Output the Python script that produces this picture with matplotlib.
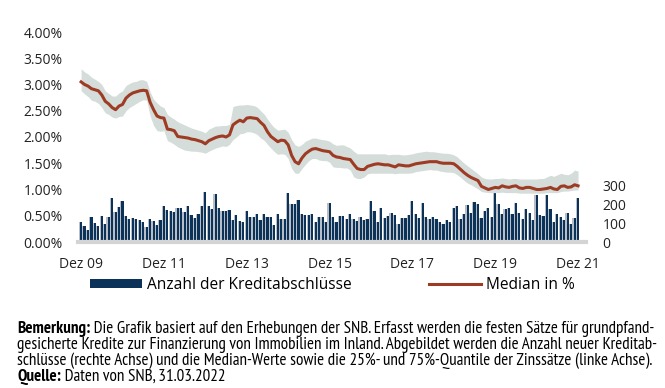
import matplotlib
matplotlib.use('Agg')
import matplotlib.pyplot as plt
from matplotlib.patches import Patch
from matplotlib.lines import Line2D
from matplotlib import font_manager

# Monatswerte Dez 2009 bis Dez 2021 (145 Monate)
median = [3.05, 3.00, 2.97, 2.92, 2.90, 2.88, 2.80, 2.68, 2.63, 2.56,
          2.52, 2.59, 2.62, 2.74, 2.80, 2.84, 2.86, 2.88, 2.89, 2.88,
          2.66, 2.52, 2.40, 2.37, 2.36, 2.15, 2.14, 2.12, 2.01, 2.00,
          1.99, 1.98, 1.96, 1.95, 1.93, 1.91, 1.87, 1.93, 1.96, 1.99,
          2.01, 2.02, 2.00, 2.04, 2.23, 2.28, 2.32, 2.29, 2.36, 2.37,
          2.36, 2.35, 2.28, 2.22, 2.10, 2.01, 1.96, 1.91, 1.94, 1.93,
          1.85, 1.65, 1.53, 1.49, 1.60, 1.68, 1.73, 1.77, 1.78, 1.76,
          1.74, 1.73, 1.72, 1.65, 1.62, 1.61, 1.59, 1.58, 1.57, 1.48,
          1.40, 1.38, 1.38, 1.44, 1.46, 1.48, 1.49, 1.48, 1.47, 1.47,
          1.45, 1.43, 1.47, 1.46, 1.45, 1.45, 1.47, 1.49, 1.50, 1.51,
          1.52, 1.53, 1.53, 1.53, 1.51, 1.50, 1.50, 1.50, 1.49, 1.44,
          1.38, 1.32, 1.27, 1.23, 1.20, 1.17, 1.06, 1.03, 1.00, 1.02,
          1.04, 1.03, 1.07, 1.05, 1.04, 1.06, 1.07, 1.03, 1.02, 1.04,
          1.04, 1.02, 1.00, 1.00, 1.01, 1.02, 1.04, 1.01, 1.00, 1.06,
          1.07, 1.04, 1.05, 1.09, 1.07]

q75 = [3.30, 3.24, 3.20, 3.14, 3.10, 3.06, 3.00, 2.88, 2.83, 2.78,
       2.78, 2.84, 2.88, 2.98, 3.02, 3.05, 3.06, 3.09, 3.09, 3.06,
       2.86, 2.72, 2.65, 2.59, 2.56, 2.43, 2.38, 2.34, 2.29, 2.26,
       2.23, 2.20, 2.17, 2.15, 2.13, 2.11, 2.08, 2.15, 2.18, 2.21,
       2.21, 2.22, 2.22, 2.24, 2.58, 2.60, 2.61, 2.61, 2.62, 2.61,
       2.60, 2.57, 2.50, 2.44, 2.34, 2.25, 2.18, 2.13, 2.14, 2.15,
       2.09, 1.95, 1.85, 1.82, 1.86, 1.92, 1.95, 1.98, 1.98, 1.96,
       1.95, 1.94, 1.92, 1.87, 1.84, 1.85, 1.85, 1.82, 1.79, 1.73,
       1.68, 1.68, 1.68, 1.68, 1.68, 1.68, 1.68, 1.68, 1.68, 1.66,
       1.67, 1.67, 1.67, 1.66, 1.66, 1.67, 1.68, 1.70, 1.71, 1.72,
       1.73, 1.72, 1.72, 1.71, 1.70, 1.69, 1.69, 1.68, 1.66, 1.62,
       1.56, 1.50, 1.45, 1.40, 1.35, 1.30, 1.24, 1.21, 1.20, 1.20,
       1.21, 1.21, 1.22, 1.21, 1.20, 1.21, 1.21, 1.20, 1.20, 1.20,
       1.20, 1.20, 1.20, 1.21, 1.21, 1.24, 1.27, 1.25, 1.28, 1.31,
       1.29, 1.28, 1.31, 1.37, 1.35]

q25 = [2.88, 2.82, 2.77, 2.70, 2.68, 2.64, 2.56, 2.46, 2.43, 2.38,
       2.36, 2.39, 2.40, 2.50, 2.56, 2.60, 2.64, 2.68, 2.71, 2.70,
       2.40, 2.22, 2.12, 2.11, 2.12, 1.93, 1.90, 1.86, 1.81, 1.78,
       1.75, 1.74, 1.73, 1.73, 1.72, 1.71, 1.69, 1.73, 1.76, 1.79,
       1.81, 1.83, 1.82, 1.86, 1.95, 2.00, 2.06, 2.07, 2.10, 2.10,
       2.08, 2.05, 1.98, 1.94, 1.86, 1.79, 1.72, 1.67, 1.68, 1.67,
       1.59, 1.40, 1.31, 1.31, 1.40, 1.48, 1.55, 1.59, 1.59, 1.56,
       1.55, 1.55, 1.52, 1.43, 1.42, 1.42, 1.41, 1.41, 1.37, 1.24,
       1.21, 1.21, 1.24, 1.30, 1.31, 1.31, 1.31, 1.31, 1.31, 1.31,
       1.31, 1.30, 1.31, 1.31, 1.31, 1.31, 1.32, 1.34, 1.35, 1.36,
       1.37, 1.38, 1.37, 1.37, 1.35, 1.34, 1.33, 1.33, 1.32, 1.28,
       1.23, 1.17, 1.12, 1.09, 1.05, 1.01, 0.96, 0.95, 0.94, 0.94,
       0.94, 0.94, 0.95, 0.94, 0.94, 0.94, 0.94, 0.93, 0.93, 0.93,
       0.93, 0.93, 0.93, 0.93, 0.93, 0.94, 0.94, 0.94, 0.94, 0.96,
       0.97, 0.97, 0.98, 0.99, 0.99]

anzahl = [106, 85, 62, 130, 100, 86, 139, 97, 132, 236,
          159, 185, 219, 139, 123, 129, 120, 115, 106, 79,
          120, 109, 92, 115, 190, 171, 164, 157, 180, 182,
          157, 192, 145, 125, 148, 189, 265, 190, 176, 256,
          182, 166, 166, 171, 116, 141, 113, 106, 166, 134,
          130, 148, 118, 148, 130, 130, 92, 150, 123, 123,
          258, 203, 203, 222, 150, 145, 145, 148, 106, 130,
          134, 106, 208, 130, 108, 136, 136, 120, 150, 123,
          113, 130, 116, 122, 220, 167, 108, 183, 127, 138,
          152, 141, 93, 127, 127, 143, 220, 150, 127, 205,
          130, 120, 130, 123, 104, 93, 118, 106, 180, 189,
          123, 146, 194, 155, 213, 203, 129, 164, 182, 132,
          288, 199, 146, 173, 182, 146, 205, 155, 120, 173,
          155, 116, 249, 145, 138, 247, 176, 106, 146, 132,
          116, 155, 93, 127, 233]

x_labels = ['Dez 09', 'Dez 11', 'Dez 13', 'Dez 15', 'Dez 17', 'Dez 19', 'Dez 21']
x_label_monate = [0, 24, 48, 72, 96, 120, 144]
links_ticks = [0, 0.5, 1.0, 1.5, 2.0, 2.5, 3.0, 3.5, 4.0]
rechts_ticks = [0, 100, 200, 300]

NAVY = '#0b3359'
SCHATTEN = '#b9bec6'
ROT = '#9e3b24'
BAND = '#d5ddda'


def font_da(name):
    try:
        font_manager.findfont(name, fallback_to_default=False)
        return True
    except Exception:
        return False


haupt_font = 'Open Sans' if font_da('Open Sans') else 'DejaVu Sans'

# schmale Schrift (mit fettem Schnitt) für die Bemerkung, falls vorhanden
note_font = 'Liberation Sans'
kandidaten = {}
for f in font_manager.fontManager.ttflist:
    if 'Narrow' in f.name or 'Condensed' in f.name:
        w = f.weight if isinstance(f.weight, int) else 400
        kandidaten.setdefault(f.name, set()).add(w)
for name in sorted(kandidaten, key=lambda n: ('Narrow' not in n, n)):
    if max(kandidaten[name]) >= 700 and min(kandidaten[name]) <= 400:
        note_font = name
        break
plt.rcParams['font.family'] = [haupt_font, 'DejaVu Sans']

monate = list(range(len(median)))

fig = plt.figure(figsize=(6.65, 3.88), dpi=100)
ax = fig.add_axes([78 / 665, 1 - 242 / 388, (586 - 78) / 665, 210 / 388])
ax2 = ax.twinx()

# Balken (rechte Achse) mit grauem Schatten
ax2.bar([m - 0.3 for m in monate], anzahl, width=0.7, color=SCHATTEN, zorder=1)
ax2.bar(monate, anzahl, width=0.62, color=NAVY, zorder=2)
ax2.set_ylim(0, 1114)
ax2.set_yticks(rechts_ticks)
ax2.set_yticklabels([str(t) for t in rechts_ticks], fontsize=10, color='#222222')
ax2.tick_params(axis='y', length=0, pad=12)

# Zinssätze (linke Achse)
ax.set_zorder(ax2.get_zorder() + 1)
ax.patch.set_visible(False)
ax.fill_between(monate, q25, q75, color=BAND, linewidth=0, zorder=2)
ax.plot(monate, median, color=ROT, linewidth=2.2, zorder=3)
ax.set_ylim(0, 4.0)
ax.set_yticks(links_ticks)
ax.set_yticklabels(['%.2f%%' % t for t in links_ticks], fontsize=10, color='#222222')
ax.tick_params(axis='y', length=0, pad=11)
ax.set_xlim(-0.9, 146.3)
ax.set_xticks(x_label_monate)
ax.set_xticklabels(x_labels, fontsize=10, color='#222222')
ax.tick_params(axis='x', length=0, pad=11)

for a in (ax, ax2):
    for s in a.spines.values():
        s.set_visible(False)
ax2.spines['bottom'].set_visible(True)
ax2.spines['bottom'].set_color('#d4d4d4')
ax2.spines['bottom'].set_linewidth(3)

# Legende
handles = [Patch(facecolor=NAVY, edgecolor='none'),
           Line2D([0], [0], color=ROT, linewidth=2.2)]
fig.legend(handles, ['Anzahl der Kreditabschlüsse', 'Median in %'],
           loc='center', bbox_to_anchor=(0.5, 1 - 285 / 388), ncol=2,
           frameon=False, fontsize=11.2, handlelength=3.35, handleheight=0.55,
           handletextpad=0.3, columnspacing=5.0, borderaxespad=0)

# Bemerkung
zeilen = [
    ('Bemerkung:', ' Die Grafik basiert auf den Erhebungen der SNB. Erfasst werden die festen Sätze für grundpfand-'),
    ('', 'gesicherte Kredite zur Finanzierung von Immobilien im Inland. Abgebildet werden die Anzahl neuer Kreditab-'),
    ('', 'schlüsse (rechte Achse) und die Median-Werte sowie die 25%- und 75%-Quantile der Zinssätze (linke Achse).'),
    ('Quelle:', ' Daten von SNB, 31.03.2022'),
]
renderer = fig.canvas.get_renderer()
probe = fig.text(0, 0, zeilen[2][1], fontsize=9, family=note_font)
breite = probe.get_window_extent(renderer).width
probe.remove()
note_size = 9 * 635 / breite

y_pos = [329, 345, 361, 377]
for (fett, rest), yp in zip(zeilen, y_pos):
    x0 = 17
    if fett:
        t = fig.text(x0 / 665, 1 - yp / 388, fett, fontsize=note_size, family=note_font,
                     fontweight='bold', va='center', ha='left')
        x0 += t.get_window_extent(renderer).width
    fig.text(x0 / 665, 1 - yp / 388, rest, fontsize=note_size, family=note_font,
             va='center', ha='left')

fig.savefig('out.png', dpi=100)
